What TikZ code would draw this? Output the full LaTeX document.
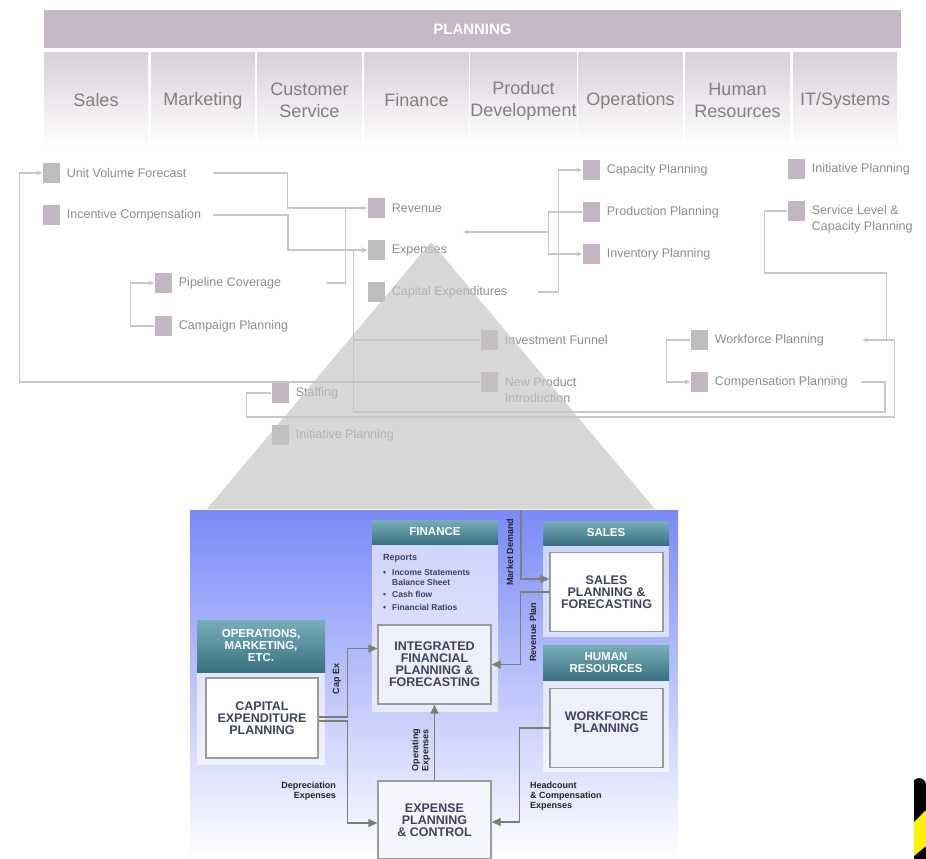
\documentclass[tikz,border=0pt]{standalone}
\usepackage{fontspec}
\setmainfont{Liberation Sans}
\usetikzlibrary{positioning, arrows.meta}

\definecolor{barmauve}{HTML}{C6B9C5}
\definecolor{deptmauve}{HTML}{D9D0D9}
\definecolor{deptgrey}{HTML}{808080}
\definecolor{sqmauve}{HTML}{C4B5C2}
\definecolor{sqgrey}{HTML}{BDBDBD}
\definecolor{lblgrey}{HTML}{8C8C8C}
\definecolor{lngrey}{HTML}{C8C8C8}
\definecolor{pyrgrey}{HTML}{C4C4C4}
\definecolor{panelblue}{HTML}{7A89F7}
\definecolor{tealtop}{HTML}{78AEB9}
\definecolor{tealbot}{HTML}{3A7181}
\definecolor{boxgrey}{HTML}{9A9C98}
\definecolor{boxfill}{HTML}{EEF0FB}
\definecolor{boxtxt}{HTML}{3D4460}
\definecolor{olive}{HTML}{7B8170}

\begin{document}
\begin{tikzpicture}[x = 1pt, y = -1pt,
    bar/.style = { fill = barmauve, text = white, minimum width = 857pt, minimum height = 38pt, font = \bfseries\fontsize{15}{18}\selectfont },
    dept/.style = { top color = deptmauve, bottom color = white, minimum width = 104pt, minimum height = 95pt, inner sep = 0pt, align = center, text = deptgrey, font = \fontsize{18}{22}\selectfont },
    sq/.style = { fill = sqmauve, minimum width = 17pt, minimum height = 20pt, inner sep = 0pt },
    gsq/.style = { sq, fill = sqgrey },
    lbl/.style = { inner sep = 0pt, align = left, text = lblgrey, font = \fontsize{12.5}{16}\selectfont },
    ln/.style = { draw = lngrey, line width = 1.5pt },
    arr/.style = { ln, -{Stealth[length = 6pt, width = 5pt]} },
    hd/.style = { top color = tealtop, bottom color = tealbot, text = white, minimum width = 126pt, inner sep = 0pt, align = center, font = \bfseries\fontsize{11.5}{12}\selectfont },
    bx/.style = { draw = boxgrey, line width = 1.3pt, fill = boxfill, minimum width = 113pt, minimum height = 79pt, inner sep = 2pt, align = center, text = boxtxt, font = \bfseries\fontsize{12.5}{12}\selectfont },
    flow/.style = { draw = olive, line width = 1.3pt, -{Triangle[length = 9pt, width = 8pt]} },
    tag/.style = { inner sep = 0pt, text = black!85, font = \bfseries\fontsize{9}{10}\selectfont }
  ]
  \useasboundingbox (0,0) rectangle (926,859);

  \node[bar] (plan) at (472.5,29) {PLANNING};
  \node[dept] (sales) at (96,100.5) {Sales};
  \node[dept] (mkt) at (203,100.5) {Marketing};
  \node[dept] (cs) at (309.5,100.5) {Customer\\Service};
  \node[dept] (fin) at (416.5,100.5) {Finance};
  \node[dept] (pd) at (523.5,100.5) {Product\\Development};
  \node[dept] (ops) at (630.5,100.5) {Operations};
  \node[dept] (hr) at (737.5,100.5) {Human\\Resources};
  \node[dept] (its) at (845,100.5) {IT/Systems};

  \node[gsq] (uvf) at (51,173) {};
  \node[lbl, right = 7pt of uvf] (uvfT) {Unit Volume Forecast};
  \node[sq] (inc) at (51,215) {};
  \node[lbl, right = 7pt of inc] (incT) {Incentive Compensation};
  \node[sq] (pipe) at (163,283) {};
  \node[lbl, right = 7pt of pipe] (pipeT) {Pipeline Coverage};
  \node[sq] (camp) at (163,326) {};
  \node[lbl, right = 7pt of camp] (campT) {Campaign Planning};
  \node[sq] (rev) at (376,208) {};
  \node[lbl, right = 7pt of rev] (revT) {Revenue};
  \node[gsq] (exp) at (376,250) {};
  \node[lbl, right = 7pt of exp] (expT) {Expenses};
  \node[gsq] (cap) at (376,292) {};
  \node[lbl, right = 7pt of cap] (capT) {Capital Expenditures};
  \node[sq] (capa) at (591,170) {};
  \node[lbl, right = 7pt of capa] (capaT) {Capacity Planning};
  \node[sq] (prod) at (591,212) {};
  \node[lbl, right = 7pt of prod] (prodT) {Production Planning};
  \node[sq] (inv) at (591,254) {};
  \node[lbl, right = 7pt of inv] (invT) {Inventory Planning};
  \node[sq] (initR) at (796,169) {};
  \node[lbl, right = 7pt of initR] (initRT) {Initiative Planning};
  \node[sq] (svc) at (796,211) {};
  \node[lbl, right = 7pt of svc, yshift = -8pt] (svcT) {Service Level \&\\Capacity Planning};
  \node[sq] (fun) at (489,340) {};
  \node[lbl, right = 7pt of fun] (funT) {Investment Funnel};
  \node[sq] (npi) at (489,382) {};
  \node[lbl, right = 7pt of npi, yshift = -8pt] (npiT) {New Product\\Introduction};
  \node[gsq] (wfp) at (699,340) {};
  \node[lbl, right = 7pt of wfp] (wfpT) {Workforce Planning};
  \node[sq] (comp) at (699,382) {};
  \node[lbl, right = 7pt of comp] (compT) {Compensation Planning};
  \node[sq] (staff) at (280,393) {};
  \node[lbl, right = 7pt of staff] (staffT) {Staffing};
  \node[gsq] (initL) at (280,435) {};
  \node[lbl, right = 7pt of initL] (initLT) {Initiative Planning};
  \coordinate (pend) at (463,232);

  \draw[arr] ([xshift = 26pt]uvfT.east) -- ++(75,0) |- (rev.west);
  \draw[arr] ([xshift = 12pt]incT.east) -- ++(75,0) |- (exp.west);
  \draw[ln] ([xshift = 46pt]pipeT.east) -- ++(18,0) |- ([xshift = -8pt]rev.west);
  \draw[arr] (camp.west) -- ++(-24,0) |- (pipe.west);
  \draw[arr] ([xshift = 31pt]capT.east) -- ++(20,0) |- (capa.west);
  \draw[arr] (prod.west) -- ++(-34,0) |- (inv.west);
  \draw[arr] (prod.west) -- ++(-34,0) |- (pend);
  \draw[arr] (svc.west) -- ++(-23,0) -- ++(0,62) -- ++(122,0) |- ([xshift = 38pt]wfpT.east);
  \draw[ln] (staff.west) -- ++(-25,0) -- ++(0,24) -- ++(648,0) -- ++(0,-77) -- ++(-8,0);
  \draw[arr] ([xshift = 13pt]compT.east) -- ++(24,0) -- ++(0,30) -| ([xshift = -14pt]exp.west) -- (exp.west);
  \draw[ln] (fun.west) -- ++(-127,0);
  \draw[arr] (npi.west) -| ([xshift = -23pt]uvf.west) -- (uvf.west);
  \draw[arr] (wfp.west) -- ++(-24,0) |- (comp.west);

  \fill[pyrgrey, opacity = .68] (431,242) -- (207,509) -- (655,509) -- cycle;

  \shade[top color = panelblue, bottom color = white] (190,510) rectangle (678,859);
  \fill[white, opacity = .6] (372,520) rectangle (498,712);
  \fill[white, opacity = .6] (543,521) rectangle (669,637);
  \fill[white, opacity = .6] (543,645) rectangle (669,772);
  \fill[white, opacity = .6] (197,620) rectangle (325,765);

  \node[hd, minimum height = 24pt] (finH) at (435,532) {FINANCE};
  \node[hd, minimum height = 24pt] (salesH) at (606,533) {SALES};
  \node[hd, minimum height = 35pt] (hrH) at (606,662.5) {HUMAN\\RESOURCES};
  \node[hd, minimum height = 52pt, minimum width = 128pt] (opsH) at (261,646) {OPERATIONS,\\MARKETING,\\ETC.};
  \node[tag, text = boxtxt, anchor = west] (repT) at (383,558) {Reports};
  \node[tag, text = boxtxt, anchor = north west, font = \bfseries\fontsize{8.5}{10}\selectfont] (repL) at (383,568)
    {\begin{tabular}{@{}l@{\hspace{6pt}}l@{}}
      \textbullet & Income Statements\\
                  & Balance Sheet\\[2pt]
      \textbullet & Cash flow\\[3pt]
      \textbullet & Financial Ratios
     \end{tabular}};

  \node[bx] (integ) at (434.5,664.5) {INTEGRATED\\FINANCIAL\\PLANNING \&\\FORECASTING};
  \node[bx, fill = white] (spf) at (606.5,592) {SALES\\PLANNING \&\\FORECASTING};
  \node[bx] (wfp2) at (606.5,728) {WORKFORCE\\PLANNING\\\mbox{}};
  \node[bx, fill = white, minimum width = 112pt, minimum height = 80pt] (cep) at (262,718) {CAPITAL\\EXPENDITURE\\PLANNING};
  \node[bx, fill = boxfill!60!white, minimum height = 78pt] (epc) at (434.5,820) {EXPENSE\\PLANNING\\\& CONTROL};

  \coordinate (mdtop) at (521,510);
  \draw[flow] (mdtop) |- ([yshift = 13pt]spf.west);
  \draw[flow] (spf.west) -- ++(-29,0) |- (integ.east);
  \draw[flow] ([yshift = 1pt]cep.east) -- ++(29,0) |- ([yshift = 16pt]integ.west);
  \draw[flow] ([yshift = -3pt]cep.east) -- ++(29,0) |- ([yshift = -3pt]epc.west);
  \draw[flow] (epc.north) -- (integ.south);
  \draw[flow] (wfp2.west) -- ++(-30,0) |- ([yshift = -2pt]epc.east);

  \node[tag, rotate = 90] (mdL) at (510,552) {Market Demand};
  \node[tag, rotate = 90] (rpL) at (533,632) {Revenue Plan};
  \node[tag, rotate = 90] (ceL) at (337,679) {Cap Ex};
  \node[tag, rotate = 90, align = center] (oeL) at (421,750) {Operating\\Expenses};
  \node[tag, anchor = east, align = right] (deL) at (336,791) {Depreciation\\Expenses};
  \node[tag, anchor = west, align = left] (hcL) at (530,796) {Headcount\\\& Compensation\\Expenses};

  \fill[black] (914,780) .. controls (919,776) and (926,778) .. (926,786) -- (926,859) -- (914,859) -- cycle;
  \fill[yellow] (914,822) -- (926,810) -- (926,846) -- (914,856) -- cycle;
\end{tikzpicture}
\end{document}
